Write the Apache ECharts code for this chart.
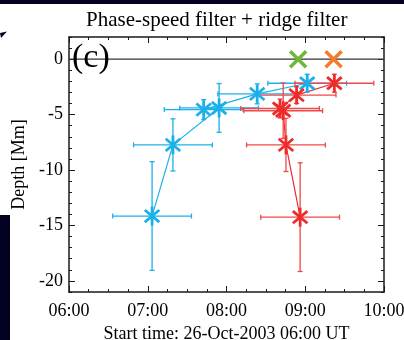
<!DOCTYPE html>
<html>
<head>
<meta charset="utf-8">
<script src="https://cdn.jsdelivr.net/npm/echarts@6/dist/echarts.min.js"></script>
<style>
  html, body { margin: 0; padding: 0; background: #fff; }
  #main { width: 404px; height: 340px; }
</style>
</head>
<body>
<div id="main"></div>
<script>
// time in hours (UT), depth in Mm; blue / red stored in the order they are joined
var blueTime = [7.055, 7.32, 7.906, 7.71, 8.39, 9.025];
var blueDepth = [-14.15, -7.73, -4.40, -4.55, -3.13, -2.17];
var blueTimeErr = [0.5, 0.5, 0.5, 0.5, 0.5, 0.5];
var blueDepthErr = [4.9, 2.35, 2.2, 0.9, 0.9, 0.8];

var redTime = [8.935, 8.755, 8.72, 8.68, 8.89, 9.37];
var redDepth = [-14.25, -7.73, -4.65, -4.45, -3.24, -2.17];
var redTimeErr = [0.5, 0.5, 0.5, 0.5, 0.5, 0.5];
var redDepthErr = [4.9, 2.4, 2.5, 0.85, 0.75, 0.8];

var greenMark = [[8.91, 0]];
var orangeMark = [[9.36, 0]];
var zeroLine = [[6, 0], [10, 0]];

var xTickLabels = ['06:00', '07:00', '08:00', '09:00', '10:00'];
var yMajor = [0, -5, -10, -15, -20];
var yMinor = [];
for (var k = -21; k <= 2; k++) yMinor.push(k);

var BLUE = '#1cb0ea';
var RED = '#ee2b2b';
var FONT = 'Liberation Serif';

var myChart = echarts.init(document.getElementById('main'));

function pack(t, d, et, ed) {
    return t.map(function (v, i) { return [v, d[i], et[i], ed[i]]; });
}

function errBars(color) {
    return function (params, api) {
        var t = api.value(0), d = api.value(1), et = api.value(2), ed = api.value(3);
        var l = api.coord([t - et, d]), r = api.coord([t + et, d]);
        var up = api.coord([t, d + ed]), dn = api.coord([t, d - ed]);
        var c = 2.5;
        var st = { stroke: color, lineWidth: 1.3 };
        return {
            type: 'group',
            children: [
                { type: 'line', shape: { x1: l[0], y1: l[1], x2: r[0], y2: r[1] }, style: st },
                { type: 'line', shape: { x1: l[0], y1: l[1] - c, x2: l[0], y2: l[1] + c }, style: st },
                { type: 'line', shape: { x1: r[0], y1: r[1] - c, x2: r[0], y2: r[1] + c }, style: st },
                { type: 'line', shape: { x1: up[0], y1: up[1], x2: dn[0], y2: dn[1] }, style: st },
                { type: 'line', shape: { x1: up[0] - c, y1: up[1], x2: up[0] + c, y2: up[1] }, style: st },
                { type: 'line', shape: { x1: dn[0] - c, y1: dn[1], x2: dn[0] + c, y2: dn[1] }, style: st }
            ]
        };
    };
}

// IDL style asterisk
function asterisk(color) {
    return function (params, api) {
        var p = api.coord([api.value(0), api.value(1)]);
        var r = 9.5, a = 40 * Math.PI / 180;
        var dx = r * Math.cos(a), dy = r * Math.sin(a);
        var st = { stroke: color, lineWidth: 2.8 };
        return {
            type: 'group',
            children: [
                { type: 'line', shape: { x1: p[0], y1: p[1] - r, x2: p[0], y2: p[1] + r }, style: st },
                { type: 'line', shape: { x1: p[0] - dx, y1: p[1] - dy, x2: p[0] + dx, y2: p[1] + dy }, style: st },
                { type: 'line', shape: { x1: p[0] - dx, y1: p[1] + dy, x2: p[0] + dx, y2: p[1] - dy }, style: st }
            ]
        };
    };
}

function cross(color) {
    return function (params, api) {
        var p = api.coord([api.value(0), api.value(1)]);
        var r = 8;
        var st = { stroke: color, lineWidth: 3.5 };
        return {
            type: 'group',
            children: [
                { type: 'line', shape: { x1: p[0] - r, y1: p[1] - r, x2: p[0] + r, y2: p[1] + r }, style: st },
                { type: 'line', shape: { x1: p[0] - r, y1: p[1] + r, x2: p[0] + r, y2: p[1] - r }, style: st }
            ]
        };
    };
}

function xAx(pos, main) {
    return {
        type: 'value',
        position: pos,
        min: 6,
        max: 10,
        interval: 1,
        axisLine: { show: true, onZero: false, lineStyle: { color: '#1a1a1a', width: 1.5 } },
        axisTick: { show: true, inside: true, length: 6, lineStyle: { color: '#1a1a1a', width: 1 } },
        minorTick: { show: true, splitNumber: 4, length: 3, lineStyle: { color: '#1a1a1a', width: 1 } },
        splitLine: { show: false },
        axisLabel: {
            show: main,
            margin: 10,
            color: '#000',
            fontFamily: FONT,
            fontSize: 18,
            formatter: function (v) { return xTickLabels[Math.round(v - 6)]; }
        },
        name: main ? 'Start time: 26-Oct-2003 06:00 UT' : '',
        nameLocation: 'middle',
        nameGap: 28,
        nameTextStyle: { color: '#000', fontFamily: FONT, fontSize: 18 }
    };
}

function yAx(pos, ticks, len, main) {
    return {
        type: 'value',
        position: pos,
        min: -21,
        max: 2,
        axisLine: { show: main, onZero: false, lineStyle: { color: '#1a1a1a', width: 1.5 } },
        axisTick: { show: true, inside: true, length: len, customValues: ticks, lineStyle: { color: '#1a1a1a', width: 1 } },
        splitLine: { show: false },
        axisLabel: {
            show: main && pos === 'left',
            customValues: yMajor,
            margin: 6,
            color: '#000',
            fontFamily: FONT,
            fontSize: 18
        },
        name: (main && pos === 'left') ? 'Depth [Mm]' : '',
        nameLocation: 'middle',
        nameGap: 37,
        nameRotate: 90,
        nameTextStyle: { color: '#000', fontFamily: FONT, fontSize: 18 }
    };
}

option = {
    backgroundColor: '#fff',
    animation: false,
    grid: { left: 69, right: 20, top: 37, bottom: 48, containLabel: false, outerBoundsMode: 'none' },
    graphic: [
        { type: 'rect', shape: { x: 0, y: 0, width: 404, height: 4 }, style: { fill: '#020220' } },
        { type: 'rect', shape: { x: 0, y: 215, width: 10, height: 125 }, style: { fill: '#020220' } },
        { type: 'polygon', shape: { points: [[0, 33], [7, 31.5], [1, 38]] }, style: { fill: '#020220' } },
        {
            type: 'text', left: 86, top: 10,
            style: { text: 'Phase-speed filter + ridge filter', fill: '#000', font: '21px "Liberation Serif"' }
        },
        {
            type: 'text', left: 72, top: 41, z: 10,
            style: { text: '(c)', fill: '#000', font: '34px "Liberation Serif"' }
        }
    ],
    xAxis: [xAx('bottom', true), xAx('top', false)],
    yAxis: [
        yAx('left', yMajor, 6, true),
        yAx('left', yMinor, 3, false),
        yAx('right', yMajor, 6, true),
        yAx('right', yMinor, 3, false)
    ],
    series: [
        {
            type: 'line', data: zeroLine, symbol: 'none', silent: true,
            lineStyle: { color: '#333', width: 1.3 }
        },
        {
            type: 'line', data: blueTime.map(function (t, i) { return [t, blueDepth[i]]; }),
            symbol: 'none', lineStyle: { color: BLUE, width: 1.2 }, z: 3
        },
        {
            type: 'line', data: redTime.map(function (t, i) { return [t, redDepth[i]]; }),
            symbol: 'none', lineStyle: { color: RED, width: 1.2 }, z: 3
        },
        {
            type: 'custom', renderItem: errBars(BLUE), encode: { x: 0, y: 1 },
            data: pack(blueTime, blueDepth, blueTimeErr, blueDepthErr), z: 4
        },
        {
            type: 'custom', renderItem: errBars('#f04848'), encode: { x: 0, y: 1 },
            data: pack(redTime, redDepth, redTimeErr, redDepthErr), z: 4
        },
        {
            type: 'custom', renderItem: asterisk(BLUE), encode: { x: 0, y: 1 },
            data: blueTime.map(function (t, i) { return [t, blueDepth[i]]; }), z: 5
        },
        {
            type: 'custom', renderItem: asterisk(RED), encode: { x: 0, y: 1 },
            data: redTime.map(function (t, i) { return [t, redDepth[i]]; }), z: 5
        },
        { type: 'custom', renderItem: cross('#6cb83a'), encode: { x: 0, y: 1 }, data: greenMark, z: 5 },
        { type: 'custom', renderItem: cross('#f47b2a'), encode: { x: 0, y: 1 }, data: orangeMark, z: 5 }
    ]
};
myChart.setOption(option);
</script>
</body>
</html>
